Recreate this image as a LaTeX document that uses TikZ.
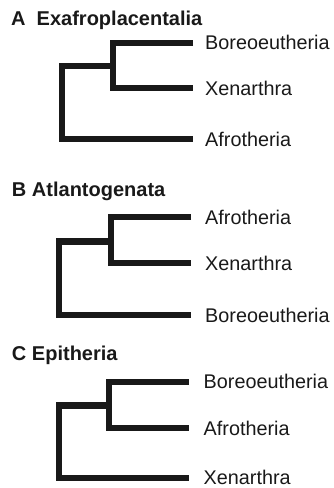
\documentclass[tikz,border=0pt]{standalone}
\usepackage{fontspec}
\setmainfont{Liberation Sans}
\begin{document}
\begin{tikzpicture}[x=1pt,y=-1pt,
  branch/.style={line width=6.2pt, line join=miter, draw=black!90},
  taxon/.style={anchor=west, inner sep=0pt, text=black!90,
    font=\fontsize{19.8}{22}\selectfont},
  paneltitle/.style={anchor=base west, inner sep=0pt, text=black!90,
    font=\bfseries\fontsize{20}{24}\selectfont}]
\useasboundingbox (0,0) rectangle (334,488);

% ---- A: Exafroplacentalia ----
\node[paneltitle] (tA) at (11,25.5) {A\ \ Exafroplacentalia};
\node[taxon] (bA) at (205,42.7) {Boreoeutheria};
\node[taxon] (xA) at (205,88.3) {Xenarthra};
\node[taxon] (aA) at (205,139) {Afrotheria};
\coordinate (iA) at (113.3,66);
\coordinate (rA) at (62.3,66);
\draw[branch] ([xshift=-12pt]bA.west) -| (iA) |- ([xshift=-12pt]xA.west);
\draw[branch] (iA) -- (rA) |- ([xshift=-12pt]aA.west);

% ---- B: Atlantogenata ----
\node[paneltitle] (tB) at (11.8,196) {B Atlantogenata};
\node[taxon] (aB) at (205,217.3) {Afrotheria};
\node[taxon] (xB) at (205,263.3) {Xenarthra};
\node[taxon] (bB) at (205,315) {Boreoeutheria};
\coordinate (iB) at (110.7,241.5);
\coordinate (rB) at (59,241.5);
\draw[branch] ([xshift=-14pt]aB.west) -| (iB) |- ([xshift=-14pt]xB.west);
\draw[branch] (iB) -- (rB) |- ([xshift=-14pt]bB.west);

% ---- C: Epitheria ----
\node[paneltitle] (tC) at (11.8,360) {C Epitheria};
\node[taxon] (bC) at (203.5,381.7) {Boreoeutheria};
\node[taxon] (aC) at (203.5,428.3) {Afrotheria};
\node[taxon] (xC) at (203.5,477.6) {Xenarthra};
\coordinate (iC) at (109,405.5);
\coordinate (rC) at (59,405.5);
\draw[branch] ([xshift=-15pt]bC.west) -| (iC) |- ([xshift=-15pt]aC.west);
\draw[branch] (iC) -- (rC) |- ([xshift=-15pt]xC.west);
\end{tikzpicture}
\end{document}
